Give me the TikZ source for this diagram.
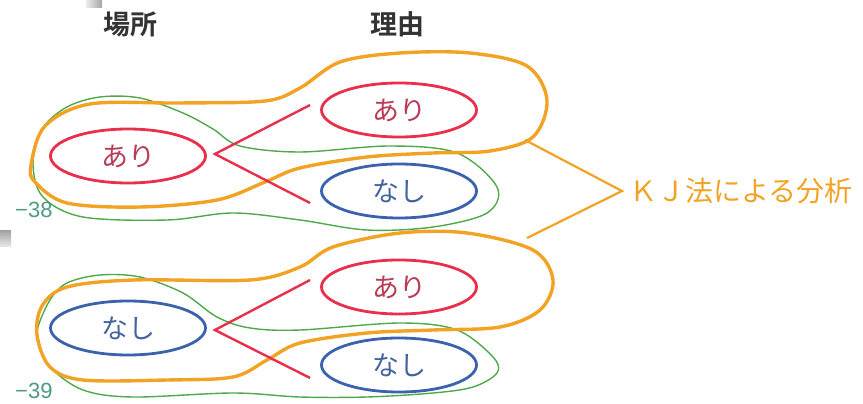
\documentclass[tikz,border=0pt]{standalone}
\usepackage{fontspec}
\newfontfamily\jp{Noto Sans CJK JP}
\newfontfamily\jpb{Noto Sans CJK JP Bold}
\newfontfamily\lat{Liberation Sans}
\usetikzlibrary{shapes.geometric,calc}
\definecolor{orangeC}{HTML}{F2A324}
\definecolor{redC}{HTML}{E8304C}
\definecolor{redT}{HTML}{B83C55}
\definecolor{blueC}{HTML}{3A62AE}
\definecolor{blueT}{HTML}{44649F}
\definecolor{greenC}{HTML}{4FA84A}
\definecolor{tealT}{HTML}{4E9A86}
\definecolor{headT}{HTML}{333333}
\tikzset{
  oloop/.style={draw=orangeC, line width=3.4pt, smooth cycle, tension=0.55},
  gloop/.style={draw=greenC, line width=1.4pt, smooth cycle, tension=0.55},
  ellbase/.style={ellipse, line width=2.8pt, minimum width=155pt, minimum height=54pt, inner sep=0pt, font=\jp\fontsize{27}{30}\selectfont},
  ellred/.style={ellbase, draw=redC, text=redT},
  ellblue/.style={ellbase, draw=blueC, text=blueT},
  redline/.style={draw=redC, line width=2.4pt},
  kjline/.style={draw=orangeC, line width=2.2pt},
  head/.style={font=\jpb\fontsize{27}{30}\selectfont, text=headT},
  numlab/.style={font=\lat\fontsize{22}{24}\selectfont, text=tealT, anchor=west, inner sep=0pt}
}
\begin{document}
\begin{tikzpicture}[x=1pt,y=-1pt]
\useasboundingbox (0,0) rectangle (863,404);
% artefacts
\shade[left color=gray!15, right color=gray!70] (86,0) rectangle (102,8);
\shade[top color=gray!75, bottom color=gray!20] (0,230) rectangle (11,246);
% headers
\node[head] (h1) at (130,24) {場所};
\node[head] (h2) at (397,24) {理由};
% green loops
\draw[gloop] plot coordinates {(33,163) (43,128) (67,107) (100,97) (140,98) (183,113) (213,129) (240,146) (300,152) (390,146) (457,153) (497,187) (487,213) (433,227) (367,230) (300,220) (233,213) (167,220) (83,217) (43,197)};
\draw[gloop] plot coordinates {(38,327) (50,300) (67,283) (100,275) (140,277) (183,293) (217,317) (250,328) (300,330) (400,323) (457,330) (493,357) (497,373) (473,387) (433,393) (367,397) (300,397) (233,393) (133,397) (83,390) (50,367) (38,343)};
% orange loops
\draw[oloop] plot coordinates {(31,165) (45,126) (90,104) (180,103) (265,101) (300,88) (340,62) (400,53) (470,53) (527,66) (547,100) (533,137) (490,151) (433,153) (367,157) (300,168) (265,182) (217,200) (140,207) (67,203) (35,182)};
\draw[oloop] plot coordinates {(37,335) (42,306) (67,287) (133,280) (250,280) (300,267) (333,247) (400,233) (467,233) (533,250) (553,280) (540,310) (500,327) (433,330) (367,333) (300,343) (267,360) (233,377) (167,380) (83,380) (50,367)};
% ellipses
\node[ellred] (L1) at (128,156) {あり};
\node[ellblue] (L2) at (128,328) {なし};
\node[ellred] (R1) at (399,110) {あり};
\node[ellblue] (R2) at (399,191) {なし};
\node[ellred] (R3) at (399,287) {あり};
\node[ellblue] (R4) at (399,365) {なし};
% red connectors
\coordinate (v1) at ($(L1.east)+(8,-2)$);
\coordinate (e1) at ($(R1.west)+(-10,-5)$);
\coordinate (e2) at ($(R2.west)+(-10,12)$);
\draw[redline] (e1) -- (v1) -- (e2);
\coordinate (v2) at ($(L2.east)+(8,2)$);
\coordinate (e3) at ($(R3.west)+(-10,-7)$);
\coordinate (e4) at ($(R4.west)+(-10,13)$);
\draw[redline] (e3) -- (v2) -- (e4);
% KJ label
\node[font=\jp\fontsize{28}{32}\selectfont, text=orangeC, anchor=west, inner sep=0pt] (kj) at (629,191) {ＫＪ法による分析};
\coordinate (kjv) at ($(kj.west)+(-7,0)$);
\coordinate (c1) at (525,140);
\coordinate (c2) at (527,238);
\draw[kjline] (c1) -- (kjv) -- (c2);
% side numbers
\node[numlab] (n1) at (15,210) {−38};
\node[numlab] (n2) at (15,391) {−39};
\end{tikzpicture}
\end{document}
